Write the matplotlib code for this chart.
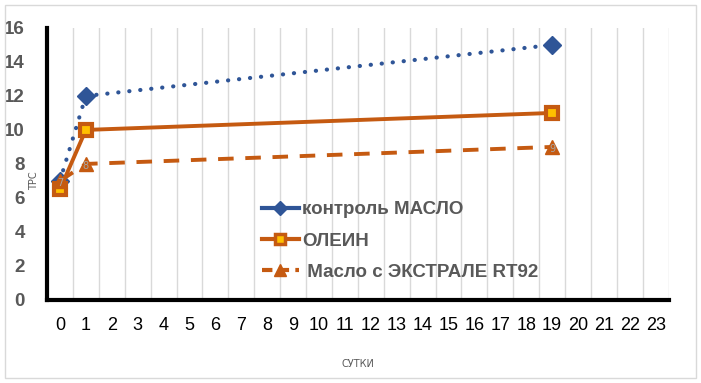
import matplotlib.pyplot as plt
from matplotlib.patches import Rectangle
from matplotlib.lines import Line2D

days = list(range(24))
x_pts = [0, 1, 19]
control = [7, 12, 15]
olein = [6.5, 10, 11]
extrale = [7, 8, 9]
labels = ['контроль МАСЛО', 'ОЛЕИН', ' Масло с ЭКСТРАЛЕ RT92']

blue = '#2F5597'
orange = '#C55A11'

plt.rcParams['font.family'] = ['DejaVu Sans']
fig = plt.figure(figsize=(7.01, 3.83), dpi=100)
ax = fig.add_axes([0.067, 0.217, 0.887, 0.71])

ax.plot(x_pts, control, color=blue, lw=3, ls=(0, (0.05, 2.6)), dash_capstyle='round',
        marker='D', ms=9, zorder=3)
ax.plot(x_pts, olein, color=orange, lw=2.8, marker='s', ms=9, mfc='#FFC000',
        mec=orange, mew=3, zorder=4)
ax.plot(x_pts, extrale, color=orange, lw=2.8, ls=(0, (4, 3)), marker='^', ms=10, zorder=4)
# подписи значений на треугольниках
for xv, yv in zip(x_pts, extrale):
    ax.text(xv, yv - 0.1, str(yv), ha='center', va='center', fontsize=7,
            color='#A6A6A6', zorder=6)

ax.set_xlim(-0.5, 23.5)
ax.set_ylim(0, 16)
ax.set_xticks(days)
ax.set_xticklabels([str(d) for d in days], fontsize=13, family='Liberation Sans')
ax.set_yticks(range(0, 17, 2))
for t in ax.get_yticklabels():
    t.set_fontsize(13.5)
    t.set_fontweight('bold')
    t.set_color('#595959')
    t.set_family('Liberation Sans')
ax.set_xticks([d + 0.5 for d in range(-1, 24)], minor=True)
ax.grid(True, axis='x', which='minor', color='#D9D9D9', lw=1)
ax.tick_params(axis='both', which='both', length=0)
ax.tick_params(axis='x', pad=12)
ax.tick_params(axis='y', pad=16)

for s in ['top', 'right']:
    ax.spines[s].set_visible(False)
for s in ['left', 'bottom']:
    ax.spines[s].set_linewidth(3)
    ax.spines[s].set_color('black')

ax.set_ylabel('ТРС', fontsize=7, color='#595959')
ax.yaxis.set_label_coords(-0.013, 0.44)
ax.set_xlabel('СУТКИ', fontsize=7, color='#595959', labelpad=18)

handles = [
    Line2D([], [], color=blue, lw=3, marker='D', ms=7),
    Line2D([], [], color=orange, lw=3, marker='s', ms=7, mfc='#FFC000', mec=orange, mew=2.5),
    Line2D([], [], color=orange, lw=3, ls=(0, (2.5, 1.5)), marker='^', ms=8),
]
leg = ax.legend(handles, labels, loc='upper left', bbox_to_anchor=(0.318, 0.425), frameon=False,
                prop={'family': 'Liberation Sans', 'weight': 'bold', 'size': 13.5},
                handlelength=2.0, handletextpad=0.15, labelspacing=0.75)
for t in leg.get_texts():
    t.set_color('#595959')

fig.patches.append(Rectangle((0.007, 0.013), 0.986, 0.974, transform=fig.transFigure,
                             fill=False, edgecolor='#D9D9D9', lw=1))

fig.savefig('out.png', dpi=100)
